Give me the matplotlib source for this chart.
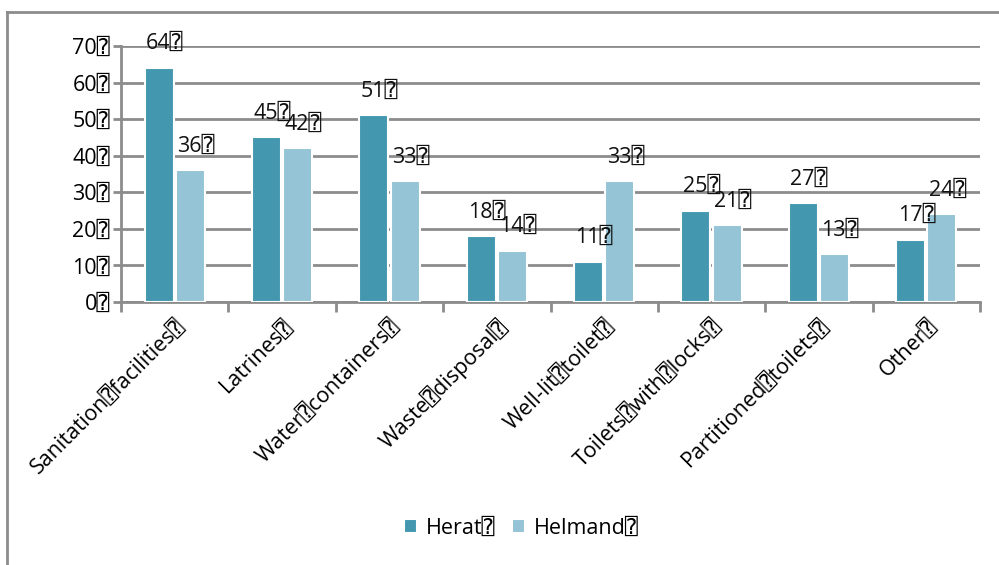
import matplotlib
matplotlib.use("Agg")
import matplotlib.pyplot as plt
from matplotlib.lines import Line2D
import numpy as np

plt.rcParams['font.family'] = ['Open Sans', 'DejaVu Sans', 'DejaVu Sans Mono']

BOX = "\u2370"
categories = ["Sanitation facilities", "Latrines", "Water containers", "Waste disposal",
              "Well-lit toilet", "Toilets with locks", "Partitioned toilets", "Other"]
herat = [64, 45, 51, 18, 11, 25, 27, 17]
helmand = [36, 42, 33, 14, 33, 21, 13, 24]
yticks = [0, 10, 20, 30, 40, 50, 60, 70]
series_names = ["Herat", "Helmand"]

c_herat = "#4398AF"
c_helmand = "#94C4D6"
grid_c = "#8C8C8C"
FS = 15.5

fig = plt.figure(figsize=(9.99, 5.65), dpi=100)
ax = fig.add_axes([121/999, 1-302/565, (980-121)/999, (302-46)/565])

x = np.arange(len(categories)) + 0.5
w = 0.27
b1 = ax.bar(x - 0.145, herat, w, color=c_herat, edgecolor="white", linewidth=1.5, zorder=3, label=series_names[0] + BOX)
b2 = ax.bar(x + 0.145, helmand, w, color=c_helmand, edgecolor="white", linewidth=1.5, zorder=3, label=series_names[1] + BOX)

for bars, vals in ((b1, herat), (b2, helmand)):
    for r, v in zip(bars, vals):
        ax.annotate(f"{v}{BOX}", (r.get_x(), v), xytext=(1, 13.5), textcoords="offset points",
                    ha="left", va="baseline", fontsize=FS, color="#111111")

ax.set_xlim(0, 8)
ax.set_ylim(0, 70)
ax.set_yticks(yticks)
ax.set_yticklabels([f"{t}{BOX}" for t in yticks], fontsize=FS)
ax.yaxis.grid(True, color=grid_c, linewidth=2, zorder=0)
ax.set_axisbelow(True)

ax.set_xticks(np.arange(0, 9), minor=False)
ax.set_xticklabels([])
ax.set_xticks(x, minor=True)
ax.set_xticklabels([c.replace(" ", BOX) + BOX for c in categories], minor=True,
                   rotation=45, ha="right", va="top", rotation_mode="anchor", fontsize=FS)
ax.tick_params(axis="x", which="minor", length=0, pad=10)
ax.tick_params(axis="x", which="major", length=7, width=2, color=grid_c, direction="out")
ax.tick_params(axis="y", length=6, width=2, color=grid_c, pad=2)

for s in ("top", "right"):
    ax.spines[s].set_visible(False)
for s in ("left", "bottom"):
    ax.spines[s].set_color(grid_c)
    ax.spines[s].set_linewidth(2)

fig.legend(handles=[b1, b2], loc="center", bbox_to_anchor=(0.522, 1-528/565), ncol=2,
           frameon=False, fontsize=FS, handlelength=0.6, handleheight=0.6, handletextpad=0.4,
           columnspacing=0.8)

fig.add_artist(Line2D([7/999, 1.0], [1-12/565, 1-12/565], color=grid_c, linewidth=2, transform=fig.transFigure))
fig.add_artist(Line2D([7/999, 7/999], [0, 1-12/565], color=grid_c, linewidth=2, transform=fig.transFigure))

fig.savefig("out.png", dpi=100)
